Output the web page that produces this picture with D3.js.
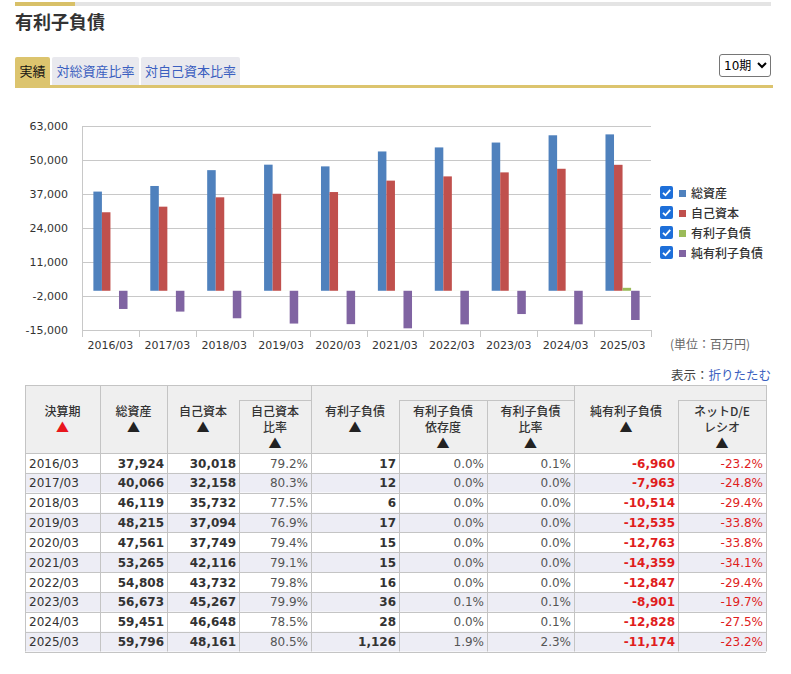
<!DOCTYPE html>
<html lang="ja">
<head>
<meta charset="UTF-8">
<title>有利子負債</title>
<script src="https://d3js.org/d3.v7.min.js"></script>
<style>
  body { margin: 0; background: #fff; font-family: "DejaVu Sans", "Noto Sans CJK JP", sans-serif; }
  #wrap { position: relative; width: 791px; height: 674px; }
  svg { position: absolute; left: 0; top: 0; }
  select {
    position: absolute; left: 719px; top: 54px; width: 52px; height: 23px;
    font-family: "DejaVu Sans", "Noto Sans CJK JP", sans-serif; font-size: 12px;
    border: 1px solid #767676; border-radius: 3px; background: #fff; color: #000; padding: 0;
  }
  .tick text { font-family: "DejaVu Sans", "Noto Sans CJK JP", sans-serif; }
</style>
</head>
<body>
<div id="wrap">
  <svg width="791" height="674"></svg>
  <select><option>10期</option></select>
</div>
<script>
const periods = ["2016/03", "2017/03", "2018/03", "2019/03", "2020/03", "2021/03", "2022/03", "2023/03", "2024/03", "2025/03"];
const totalAssets = [37924, 40066, 46119, 48215, 47561, 53265, 54808, 56673, 59451, 59796];
const equity = [30018, 32158, 35732, 37094, 37749, 42116, 43732, 45267, 46648, 48161];
const equityRatio = [79.2, 80.3, 77.5, 76.9, 79.4, 79.1, 79.8, 79.9, 78.5, 80.5];
const debt = [17, 12, 6, 17, 15, 15, 16, 36, 28, 1126];
const debtDependence = [0.0, 0.0, 0.0, 0.0, 0.0, 0.0, 0.0, 0.1, 0.0, 1.9];
const debtRatio = [0.1, 0.0, 0.0, 0.0, 0.0, 0.0, 0.0, 0.1, 0.1, 2.3];
const netDebt = [-6960, -7963, -10514, -12535, -12763, -14359, -12847, -8901, -12828, -11174];
const netDE = [-23.2, -24.8, -29.4, -33.8, -33.8, -34.1, -29.4, -19.7, -27.5, -23.2];
const yTicks = [-15000, -2000, 11000, 24000, 37000, 50000, 63000];
const seriesNames = ["総資産", "自己資本", "有利子負債", "純有利子負債"];
const seriesColors = ["#4f81bd", "#c0504d", "#9bbb59", "#8064a2"];
const tabs = ["実績", "対総資産比率", "対自己資本比率"];

const svg = d3.select("svg");
const locale = d3.formatLocale({decimal: ".", thousands: ",", grouping: [3], currency: ["", ""], minus: "-"});
const fmt = locale.format(",");
const pct = v => locale.format(".1f")(v) + "%";

// header strip + title
svg.append("rect").attr("x", 15).attr("y", 2).attr("width", 60).attr("height", 4).attr("fill", "#d8c068");
svg.append("rect").attr("x", 75).attr("y", 2).attr("width", 696).attr("height", 4).attr("fill", "#e4e4e4");
svg.append("text").attr("x", 15).attr("y", 29)
  .attr("font-size", 18).attr("font-weight", "bold").attr("fill", "#333")
  .attr("font-family", "Noto Sans CJK JP").text("有利子負債");

// tabs
const tabW = [35, 87, 99];
let tx = 15;
tabs.forEach((t, i) => {
  const g = svg.append("g");
  g.append("rect").attr("x", tx).attr("y", 57).attr("width", tabW[i]).attr("height", 30)
    .attr("rx", 2).attr("fill", i === 0 ? "#dcc46e" : "#e9e9ee");
  g.append("text").attr("x", tx + tabW[i] / 2).attr("y", 76).attr("text-anchor", "middle")
    .attr("font-size", 13).attr("font-family", "Noto Sans CJK JP")
    .attr("fill", i === 0 ? "#111" : "#3b5fc0").text(t);
  tx += tabW[i] + 2;
});
svg.append("rect").attr("x", 15).attr("y", 85).attr("width", 758).attr("height", 3).attr("fill", "#dcc46e");

// chart
const plot = {left: 82, right: 651, top: 126, bottom: 330};
const y = d3.scaleLinear().domain([-15000, 63000]).range([plot.bottom, plot.top]);
const x0 = d3.scaleBand().domain(periods).range([plot.left, plot.right]).paddingInner(0.4).paddingOuter(0.2);
const x1 = d3.scaleBand().domain(seriesNames).range([0, x0.bandwidth()]);

const grid = svg.append("g");
grid.selectAll("line").data(yTicks).join("line")
  .attr("x1", plot.left).attr("x2", plot.right)
  .attr("y1", d => y(d) + 0.5).attr("y2", d => y(d) + 0.5)
  .attr("stroke", "#c8c8c8");

svg.append("g")
  .attr("transform", `translate(${plot.left},0)`)
  .call(d3.axisLeft(y).tickValues(yTicks).tickFormat(fmt).tickSize(0).tickPadding(14))
  .call(g => g.select(".domain").attr("stroke", "#c8c8c8"))
  .call(g => g.selectAll("text").attr("font-size", 11).attr("fill", "#333"));

const seriesData = [totalAssets, equity, debt, netDebt];
const groups = svg.append("g").selectAll("g").data(periods).join("g")
  .attr("transform", d => `translate(${x0(d)},0)`);
groups.selectAll("rect")
  .data((p, i) => seriesNames.map((s, k) => ({s, v: seriesData[k][i]})))
  .join("rect")
  .attr("x", d => x1(d.s))
  .attr("width", x1.bandwidth())
  .attr("y", d => y(Math.max(0, d.v)))
  .attr("height", d => Math.abs(y(d.v) - y(0)))
  .attr("fill", (d, k) => seriesColors[k]);

// bottom axis with ticks at band boundaries
const xAxis = svg.append("g").attr("transform", `translate(0,${plot.bottom})`);
xAxis.append("line").attr("x1", plot.left).attr("x2", plot.right).attr("y1", 0.5).attr("y2", 0.5).attr("stroke", "#c8c8c8");
const bounds = periods.map(p => x0(p) - x0.step() * x0.paddingInner() / 2).concat([plot.right]);
xAxis.selectAll(".bt").data(bounds).join("line").attr("class", "bt")
  .attr("x1", d => Math.round(d) + 0.5).attr("x2", d => Math.round(d) + 0.5)
  .attr("y1", 0).attr("y2", 7).attr("stroke", "#c8c8c8");
xAxis.selectAll("text").data(periods).join("text")
  .attr("x", d => x0(d) + x0.bandwidth() / 2).attr("y", 19)
  .attr("text-anchor", "middle").attr("font-size", 11).attr("fill", "#333").text(d => d);

// legend
const legend = svg.append("g").selectAll("g").data(seriesNames).join("g")
  .attr("transform", (d, i) => `translate(660,${186 + i * 20})`);
legend.append("rect").attr("width", 13).attr("height", 13).attr("rx", 2).attr("fill", "#1e6fd9");
legend.append("path").attr("d", "M3,6.8 L5.5,9.3 L10.2,3.8").attr("fill", "none")
  .attr("stroke", "#fff").attr("stroke-width", 1.8);
legend.append("rect").attr("x", 19).attr("y", 4).attr("width", 7).attr("height", 7)
  .attr("fill", (d, i) => seriesColors[i]);
legend.append("text").attr("x", 31).attr("y", 11.5).attr("font-size", 12)
  .attr("font-family", "Noto Sans CJK JP").attr("font-weight", 500).attr("fill", "#333").text(d => d);

svg.append("text").attr("x", 670).attr("y", 349).attr("font-size", 12).attr("fill", "#666")
  .attr("font-family", "Noto Sans CJK JP").text("(単位：百万円)");

const disp = svg.append("text").attr("x", 771).attr("y", 380).attr("text-anchor", "end")
  .attr("font-size", 12.5).attr("font-family", "Noto Sans CJK JP");
disp.append("tspan").attr("fill", "#444").text("表示：");
disp.append("tspan").attr("fill", "#3b5fc0").text("折りたたむ");

// table
const colX = [25, 100, 167, 239, 311, 399, 487, 574, 678, 766];
const headTop = 385, subTop = 400, headBottom = 453, rowH = 19.85;
const table = svg.append("g");

const rows = periods.map((p, i) => [
  {t: p, cls: "date"},
  {t: fmt(totalAssets[i]), cls: "bold"},
  {t: fmt(equity[i]), cls: "bold"},
  {t: pct(equityRatio[i]), cls: "pct"},
  {t: fmt(debt[i]), cls: "bold"},
  {t: pct(debtDependence[i]), cls: "pct"},
  {t: pct(debtRatio[i]), cls: "pct"},
  {t: fmt(netDebt[i]), cls: "neg"},
  {t: pct(netDE[i]), cls: "negpct"}
]);

// header background
table.append("rect").attr("x", colX[0]).attr("y", headTop).attr("width", colX[9] - colX[0])
  .attr("height", headBottom - headTop).attr("fill", "#efefef");
// row backgrounds
table.selectAll(".rowbg").data(rows).join("rect").attr("class", "rowbg")
  .attr("x", colX[0]).attr("y", (d, i) => headBottom + i * rowH)
  .attr("width", colX[9] - colX[0]).attr("height", rowH)
  .attr("fill", (d, i) => i % 2 ? "#ededf5" : "#fff");

// grid lines
const lc = "#c4c4c4";
const tableBottom = headBottom + rows.length * rowH;
const vlines = [
  [colX[0], headTop], [colX[1], headTop], [colX[2], headTop], [colX[3], subTop],
  [colX[4], headTop], [colX[5], subTop], [colX[6], subTop], [colX[7], headTop],
  [colX[8], subTop], [colX[9], headTop]
];
table.selectAll(".vl").data(vlines).join("line").attr("class", "vl")
  .attr("x1", d => d[0] + 0.5).attr("x2", d => d[0] + 0.5)
  .attr("y1", d => d[1]).attr("y2", tableBottom).attr("stroke", lc);
const hlines = [headTop, headBottom].concat(rows.map((d, i) => headBottom + (i + 1) * rowH));
table.selectAll(".hl").data(hlines).join("line").attr("class", "hl")
  .attr("x1", colX[0]).attr("x2", colX[9])
  .attr("y1", d => Math.round(d) + 0.5).attr("y2", d => Math.round(d) + 0.5).attr("stroke", lc);
// sub-header top borders
[[3, 4], [5, 7], [8, 9]].forEach(([a, b]) => {
  table.append("line").attr("x1", colX[a]).attr("x2", colX[b])
    .attr("y1", subTop + 0.5).attr("y2", subTop + 0.5).attr("stroke", lc);
});

// header labels
const headers = [
  {lines: ["決算期"], col: 0, red: true},
  {lines: ["総資産"], col: 1},
  {lines: ["自己資本"], col: 2},
  {lines: ["自己資本", "比率"], col: 3},
  {lines: ["有利子負債"], col: 4},
  {lines: ["有利子負債", "依存度"], col: 5},
  {lines: ["有利子負債", "比率"], col: 6},
  {lines: ["純有利子負債"], col: 7},
  {lines: ["ネットD/E", "レシオ"], col: 8}
];
headers.forEach(h => {
  const cx = (colX[h.col] + colX[h.col + 1]) / 2;
  h.lines.forEach((l, j) => {
    table.append("text").attr("x", cx).attr("y", 415.5 + j * 16).attr("text-anchor", "middle")
      .attr("font-size", 12).attr("font-family", "Noto Sans CJK JP").attr("font-weight", 500)
      .attr("fill", "#333").text(l);
  });
  table.append("text").attr("x", cx).attr("y", 432 + (h.lines.length - 1) * 16)
    .attr("text-anchor", "middle").attr("font-size", 13).attr("font-family", "Noto Sans CJK JP")
    .attr("fill", h.red ? "#e8161c" : "#222").text("▲");
});

// cells
const rowG = table.selectAll(".row").data(rows).join("g").attr("class", "row")
  .attr("transform", (d, i) => `translate(0,${headBottom + i * rowH + 14.5})`);
rowG.selectAll("text").data(d => d).join("text")
  .attr("x", (d, j) => j === 0 ? colX[0] + 4 : colX[j + 1] - 3)
  .attr("text-anchor", (d, j) => j === 0 ? "start" : "end")
  .attr("font-size", 12)
  .attr("font-weight", d => (d.cls === "bold" || d.cls === "neg") ? "bold" : "normal")
  .attr("fill", d => d.cls === "neg" || d.cls === "negpct" ? "#e01d1d" : d.cls === "pct" ? "#555" : "#333")
  .text(d => d.t);
</script>
</body>
</html>
